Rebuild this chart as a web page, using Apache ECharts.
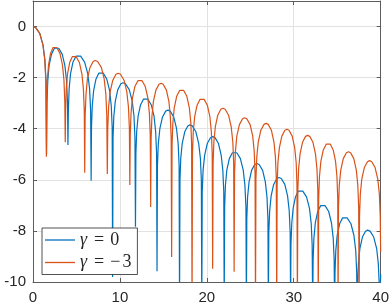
<!DOCTYPE html>
<html>
<head>
<meta charset="utf-8">
<script src="https://cdn.jsdelivr.net/npm/echarts@6/dist/echarts.min.js"></script>
<style>
html,body{margin:0;padding:0;background:#fff;}
#c{width:392px;height:305px;}
</style>
</head>
<body>
<div id="c"></div>
<script>
const xTicks = [0, 10, 20, 30, 40];
const yTicks = [-10, -8, -6, -4, -2, 0];
const seriesNames = ['γ = 0', 'γ = −3'];

// gamma = 0 (blue): [x, y] points; nulls below -10 are clipped
const gamma0 = [
[0,0],[0.31,-0.04],[0.78,-0.27],[1.15,-0.72],[1.37,-1.31],[1.50,-2.16],[1.56,-5.0],
[1.61,-2.97],[1.70,-2.12],[1.85,-1.53],[2.13,-1.08],[2.46,-0.85],[2.69,-0.81],[2.96,-0.85],[3.36,-1.08],[3.67,-1.53],[3.86,-2.12],[3.97,-2.97],[4.02,-4.64],
[4.07,-3.28],[4.16,-2.43],[4.32,-1.84],[4.60,-1.39],[4.95,-1.16],[5.18,-1.12],[5.48,-1.16],[5.94,-1.39],[6.30,-1.84],[6.51,-2.43],[6.63,-3.28],[6.69,-6.04],
[6.73,-3.94],[6.82,-3.09],[6.98,-2.50],[7.25,-2.05],[7.58,-1.82],[7.80,-1.78],[8.07,-1.82],[8.48,-2.05],[8.81,-2.50],[9.00,-3.09],[9.11,-3.94],[9.16,-9.8],
[9.21,-4.36],[9.30,-3.51],[9.47,-2.92],[9.76,-2.47],[10.11,-2.24],[10.35,-2.20],[10.64,-2.24],[11.07,-2.47],[11.42,-2.92],[11.62,-3.51],[11.73,-4.36],[11.79,-7.84],
[11.84,-4.96],[11.93,-4.11],[12.09,-3.52],[12.37,-3.07],[12.72,-2.84],[12.95,-2.80],[13.21,-2.84],[13.61,-3.07],[13.93,-3.52],[14.11,-4.11],[14.22,-4.96],[14.27,-9.58],
[14.32,-5.43],[14.42,-4.58],[14.60,-3.99],[14.90,-3.54],[15.27,-3.31],[15.52,-3.27],[15.79,-3.31],[16.19,-3.54],[16.51,-3.99],[16.70,-4.58],[16.81,-5.43],[16.86,-11],
[16.91,-6.01],[17.00,-5.16],[17.17,-4.57],[17.46,-4.12],[17.81,-3.89],[18.05,-3.85],[18.32,-3.89],[18.74,-4.12],[19.06,-4.57],[19.26,-5.16],[19.37,-6.01],[19.42,-11],
[19.47,-6.47],[19.57,-5.62],[19.75,-5.03],[20.05,-4.58],[20.42,-4.35],[20.67,-4.31],[20.94,-4.35],[21.34,-4.58],[21.65,-5.03],[21.84,-5.62],[21.95,-6.47],[22.00,-11],
[22.05,-7.06],[22.14,-6.21],[22.30,-5.62],[22.59,-5.17],[22.94,-4.94],[23.17,-4.90],[23.45,-4.94],[23.86,-5.17],[24.19,-5.62],[24.38,-6.21],[24.50,-7.06],[24.55,-11],
[24.60,-7.52],[24.69,-6.67],[24.86,-6.08],[25.15,-5.63],[25.51,-5.40],[25.75,-5.36],[26.02,-5.40],[26.42,-5.63],[26.73,-6.08],[26.92,-6.67],[27.03,-7.52],[27.08,-11],
[27.13,-8.07],[27.23,-7.22],[27.40,-6.63],[27.69,-6.18],[28.06,-5.95],[28.30,-5.91],[28.57,-5.95],[28.97,-6.18],[29.29,-6.63],[29.48,-7.22],[29.59,-8.07],[29.64,-11],
[29.68,-8.56],[29.77,-7.71],[29.93,-7.12],[30.20,-6.67],[30.53,-6.44],[30.75,-6.40],[31.04,-6.44],[31.47,-6.67],[31.81,-7.12],[32.01,-7.71],[32.12,-8.56],[32.18,-11],
[32.23,-9.13],[32.32,-8.28],[32.48,-7.69],[32.76,-7.24],[33.10,-7.01],[33.33,-6.97],[33.60,-7.01],[34.02,-7.24],[34.34,-7.69],[34.54,-8.28],[34.65,-9.13],[34.70,-11],
[34.75,-9.61],[34.84,-8.76],[35.00,-8.17],[35.28,-7.72],[35.62,-7.49],[35.85,-7.45],[36.14,-7.49],[36.58,-7.72],[36.92,-8.17],[37.13,-8.76],[37.24,-9.61],[37.30,-11],
[37.35,-10.13],[37.44,-9.28],[37.61,-8.69],[37.90,-8.24],[38.26,-8.01],[38.50,-7.97],[38.78,-8.01],[39.20,-8.24],[39.54,-8.69],[39.73,-9.28],[39.84,-10.13],[39.90,-11],[40,-9.7]
];

// gamma = -3 (orange)
const gammaM3 = [
[0,0],[0.31,-0.04],[0.77,-0.27],[1.14,-0.72],[1.36,-1.31],[1.48,-2.16],[1.54,-5.1],
[1.58,-2.94],[1.65,-2.09],[1.79,-1.50],[2.02,-1.05],[2.30,-0.82],[2.49,-0.78],[2.73,-0.82],[3.10,-1.05],[3.39,-1.50],[3.56,-2.09],[3.66,-2.94],[3.71,-4.53],
[3.75,-3.30],[3.83,-2.45],[3.97,-1.86],[4.22,-1.41],[4.52,-1.18],[4.72,-1.14],[4.97,-1.18],[5.34,-1.41],[5.63,-1.86],[5.80,-2.45],[5.90,-3.30],[5.95,-5.72],
[6.00,-3.49],[6.10,-2.64],[6.26,-2.05],[6.56,-1.60],[6.92,-1.37],[7.16,-1.33],[7.44,-1.37],[7.86,-1.60],[8.19,-2.05],[8.38,-2.64],[8.49,-3.49],[8.55,-5.77],
[8.60,-3.99],[8.70,-3.14],[8.88,-2.55],[9.18,-2.10],[9.55,-1.87],[9.80,-1.83],[10.07,-1.87],[10.47,-2.10],[10.79,-2.55],[10.98,-3.14],[11.09,-3.99],[11.14,-6.2],
[11.19,-4.24],[11.28,-3.39],[11.44,-2.80],[11.72,-2.35],[12.07,-2.12],[12.30,-2.08],[12.55,-2.12],[12.92,-2.35],[13.22,-2.80],[13.39,-3.39],[13.49,-4.24],[13.54,-7.06],
[13.59,-4.38],[13.68,-3.53],[13.85,-2.94],[14.14,-2.49],[14.50,-2.26],[14.74,-2.22],[14.98,-2.26],[15.35,-2.49],[15.64,-2.94],[15.80,-3.53],[15.90,-4.38],[15.95,-9.02],
[16.00,-4.62],[16.09,-3.77],[16.25,-3.18],[16.53,-2.73],[16.87,-2.50],[17.10,-2.46],[17.34,-2.50],[17.70,-2.73],[17.99,-3.18],[18.16,-3.77],[18.25,-4.62],[18.30,-11],
[18.35,-4.97],[18.44,-4.12],[18.60,-3.53],[18.88,-3.08],[19.22,-2.85],[19.45,-2.81],[19.69,-2.85],[20.06,-3.08],[20.35,-3.53],[20.52,-4.12],[20.62,-4.97],[20.67,-9.48],
[20.72,-5.36],[20.81,-4.51],[20.98,-3.92],[21.26,-3.47],[21.61,-3.24],[21.85,-3.20],[22.11,-3.24],[22.50,-3.47],[22.80,-3.92],[22.99,-4.51],[23.09,-5.36],[23.14,-9.6],
[23.19,-5.73],[23.29,-4.88],[23.45,-4.29],[23.75,-3.84],[24.11,-3.61],[24.35,-3.57],[24.60,-3.61],[24.98,-3.84],[25.28,-4.29],[25.45,-4.88],[25.55,-5.73],[25.60,-11],
[25.65,-5.95],[25.75,-5.10],[25.92,-4.51],[26.21,-4.06],[26.58,-3.83],[26.82,-3.79],[27.06,-3.83],[27.43,-4.06],[27.72,-4.51],[27.89,-5.10],[27.99,-5.95],[28.04,-11],
[28.09,-6.18],[28.18,-5.33],[28.35,-4.74],[28.63,-4.29],[28.98,-4.06],[29.22,-4.02],[29.46,-4.06],[29.82,-4.29],[30.11,-4.74],[30.28,-5.33],[30.37,-6.18],[30.42,-11],
[30.47,-6.42],[30.56,-5.57],[30.73,-4.98],[31.01,-4.53],[31.36,-4.30],[31.60,-4.26],[31.84,-4.30],[32.21,-4.53],[32.50,-4.98],[32.67,-5.57],[32.77,-6.42],[32.82,-11],
[32.87,-6.72],[32.96,-5.87],[33.12,-5.28],[33.40,-4.83],[33.75,-4.60],[33.98,-4.56],[34.20,-4.60],[34.54,-4.83],[34.81,-5.28],[34.97,-5.87],[35.06,-6.72],[35.10,-11],
[35.15,-7.06],[35.24,-6.21],[35.41,-5.62],[35.70,-5.17],[36.06,-4.94],[36.30,-4.90],[36.54,-4.94],[36.91,-5.17],[37.20,-5.62],[37.37,-6.21],[37.47,-7.06],[37.52,-11],
[37.57,-7.41],[37.66,-6.56],[37.83,-5.97],[38.12,-5.52],[38.48,-5.29],[38.72,-5.25],[38.98,-5.29],[39.36,-5.52],[39.67,-5.97],[39.85,-6.56],[39.95,-7.41],[40,-8.82]
];

const AX = '#5c5c5c';
const GRID = '#e2e2e2';
const TXT = '#262626';
const FONT = 'Liberation Sans, Arial, sans-serif';
const SERIF = 'Liberation Serif, serif';

const chart = echarts.init(document.getElementById('c'), null, {renderer: 'canvas'});
const axisCommon = () => ({
  axisLine: {show: true, onZero: false, lineStyle: {color: AX, width: 1}},
  axisTick: {show: true, inside: true, length: 4, lineStyle: {color: AX, width: 1}}
});
chart.setOption({
  animation: false,
  backgroundColor: '#fff',
  grid: {left: 33, right: 10, top: 1, bottom: 23, containLabel: false},
  xAxis: [
    Object.assign({
      type: 'value', min: xTicks[0], max: xTicks[xTicks.length - 1], interval: 10, position: 'bottom',
      splitLine: {show: true, lineStyle: {color: GRID, width: 1}},
      axisLabel: {color: TXT, fontSize: 15, fontFamily: FONT, margin: 8,
        formatter: v => xTicks.includes(v) ? String(v) : ''}
    }, axisCommon()),
    Object.assign({
      type: 'value', min: 0, max: 40, interval: 10, position: 'top',
      splitLine: {show: false}, axisLabel: {show: false}
    }, axisCommon())
  ],
  yAxis: [
    Object.assign({
      type: 'value', min: -10, max: 1, interval: 2, position: 'left',
      splitLine: {show: true, lineStyle: {color: GRID, width: 1}},
      axisLabel: {color: TXT, fontSize: 15, fontFamily: FONT, margin: 7,
        formatter: v => yTicks.includes(v) ? String(v) : ''}
    }, axisCommon()),
    Object.assign({
      type: 'value', min: -10, max: 1, interval: 2, position: 'right',
      splitLine: {show: false}, axisLabel: {show: false}
    }, axisCommon())
  ],
  legend: {
    orient: 'vertical', left: 42, top: 228,
    icon: 'rect',
    itemWidth: 30, itemHeight: 1.3, itemGap: 4.5,
    padding: [3, 6, 3, 3],
    backgroundColor: '#fff', borderColor: '#262626', borderWidth: 0.8, borderRadius: 0,
    data: seriesNames,
    formatter: name => {
      const rest = name.split('=')[1].trim();
      if (rest.startsWith('−')) return '{g|γ}{eq|=}{m|−}{n|' + rest.slice(1) + '}';
      return '{g|γ}{eq|=}{n|' + rest + '}';
    },
    textStyle: {fontFamily: SERIF, fontSize: 18, color: TXT, lineHeight: 17,
      rich: {
        g: {fontStyle: 'italic', fontFamily: SERIF, fontSize: 18, color: TXT, lineHeight: 17},
        eq: {fontFamily: SERIF, fontSize: 18, color: TXT, lineHeight: 17, padding: [0, 6, 0, 7]},
        m: {fontFamily: SERIF, fontSize: 18, color: TXT, lineHeight: 17, padding: [0, 2, 0, 0]},
        n: {fontFamily: SERIF, fontSize: 18, color: TXT, lineHeight: 17}
      }}
  },
  series: [
    {name: seriesNames[0], type: 'line', data: gamma0, xAxisIndex: 0, yAxisIndex: 0,
     symbol: 'none', showSymbol: false, color: '#0072BD',
     lineStyle: {color: '#0072BD', width: 1.2}, clip: true},
    {name: seriesNames[1], type: 'line', data: gammaM3, xAxisIndex: 0, yAxisIndex: 0,
     symbol: 'none', showSymbol: false, color: '#D95319',
     lineStyle: {color: '#D95319', width: 1.2}, clip: true}
  ]
});
</script>
</body>
</html>
